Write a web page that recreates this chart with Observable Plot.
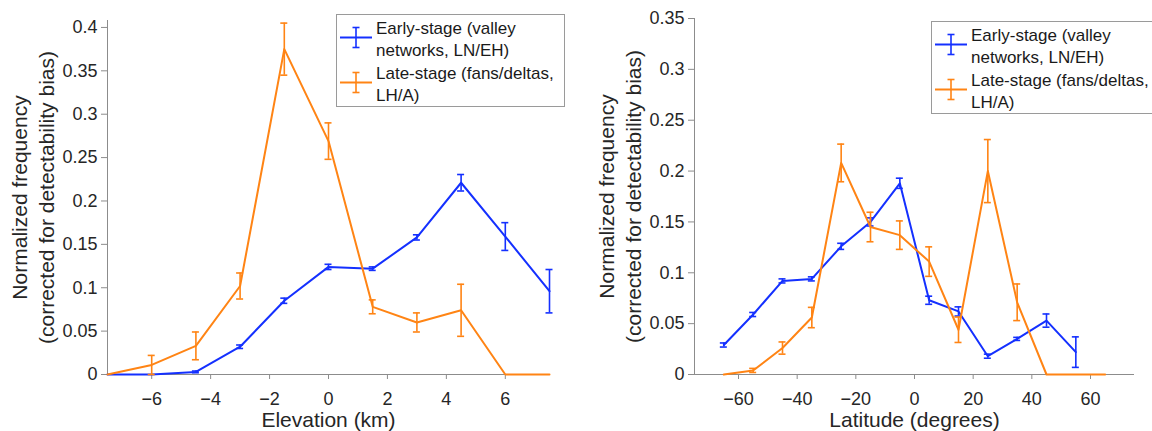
<!DOCTYPE html>
<html><head><meta charset="utf-8">
<script src="https://cdn.jsdelivr.net/npm/d3@7"></script>
<script src="https://cdn.jsdelivr.net/npm/@observablehq/plot@0.6"></script>
<style>
body{margin:0;background:#fff;}
#wrap{position:relative;width:1152px;height:431px;overflow:hidden;display:flex;background:#fff;}
#wrap svg{display:block;}
#overlay{position:absolute;left:0;top:0;pointer-events:none;}
</style></head><body><div id="wrap"></div>
<script>
// ---- Left panel: elevation ----
const elevX = [-7.5, -6, -4.5, -3, -1.5, 0, 1.5, 3, 4.5, 6, 7.5];
const elevEarly = [0, 0, 0.003, 0.032, 0.085, 0.124, 0.122, 0.158, 0.221, 0.159, 0.096];
const elevEarlyErr = [0, 0, 0.001, 0.002, 0.003, 0.003, 0.002, 0.003, 0.0095, 0.016, 0.025];
const elevLate = [0, 0.011, 0.033, 0.102, 0.375, 0.269, 0.078, 0.060, 0.074, 0, 0];
const elevLateErr = [0, 0.011, 0.016, 0.015, 0.030, 0.021, 0.008, 0.011, 0.030, 0, 0];
const elevXTicks = [-6, -4, -2, 0, 2, 4, 6];
const elevYTicks = [0, 0.05, 0.1, 0.15, 0.2, 0.25, 0.3, 0.35, 0.4];

// ---- Right panel: latitude ----
const latX = [-65, -55, -45, -35, -25, -15, -5, 5, 15, 25, 35, 45, 55, 65];
const latEarly = [0.029, 0.059, 0.092, 0.094, 0.126, 0.150, 0.188, 0.073, 0.062, 0.018, 0.035, 0.053, 0.022];
const latEarlyErr = [0.002, 0.002, 0.002, 0.002, 0.003, 0.004, 0.005, 0.004, 0.0045, 0.002, 0.0015, 0.0065, 0.015];
const latLate = [0, 0.004, 0.026, 0.056, 0.208, 0.145, 0.137, 0.111, 0.044, 0.200, 0.071, 0, 0, 0];
const latLateErr = [0, 0.002, 0.006, 0.010, 0.0185, 0.0145, 0.014, 0.0145, 0.0125, 0.031, 0.018, 0, 0, 0];
const latXTicks = [-60, -40, -20, 0, 20, 40, 60];
const latYTicks = [0, 0.05, 0.1, 0.15, 0.2, 0.25, 0.3, 0.35];

const yLabel = "Normalized frequency\n(corrected for detectability bias)";
const seriesNames = ["Early-stage (valley\nnetworks, LN/EH)", "Late-stage (fans/deltas,\nLH/A)"];
const colors = ["#1430ff", "#ff8414"];

const FONT = '"Liberation Sans", Arial, Helvetica, sans-serif';
const AXIS = "#8c8c8c";
const INK = "#262626";

const fmtY = d => d === 0 ? "0" : String(+d.toFixed(2));
const fmtX = d => d < 0 ? "\u2212" + (-d) : String(d);

function seriesMarks(data, color) {
  const bars = data.filter(p => p.e > 0);
  return [
    Plot.ruleX(bars, {x: "x", y1: d => d.y - d.e, y2: d => d.y + d.e, stroke: color, strokeWidth: 1.6}),
    Plot.ruleY(bars, {y: d => d.y + d.e, x1: "x", x2: "x", insetLeft: -3.5, insetRight: -3.5, stroke: color, strokeWidth: 1.6}),
    Plot.ruleY(bars, {y: d => d.y - d.e, x1: "x", x2: "x", insetLeft: -3.5, insetRight: -3.5, stroke: color, strokeWidth: 1.6}),
    Plot.line(data, {x: "x", y: "y", stroke: color, strokeWidth: 2})
  ];
}

function chart(o) {
  const E = o.early.map((v, i) => ({x: o.xs[i], y: v, e: o.earlyErr[i]}));
  const L = o.late.map((v, i) => ({x: o.xs[i], y: v, e: o.lateErr[i]}));
  return Plot.plot({
    width: 576, height: 431,
    marginLeft: o.mL, marginRight: o.mR, marginTop: o.mT, marginBottom: o.mB,
    style: {fontFamily: FONT, fontSize: "18px", background: "white", color: INK, overflow: "visible"},
    x: {domain: o.xDomain},
    y: {domain: o.yDomain},
    marks: [
      Plot.axisX({ticks: o.xTicks, tickFormat: fmtX, tickSize: 5, tickPadding: 13, stroke: AXIS, color: INK, fontSize: 18, label: null}),
      Plot.axisY({ticks: o.yTicks, tickFormat: fmtY, tickSize: 6, tickPadding: 4, stroke: AXIS, color: INK, fontSize: 18, label: null}),
      Plot.ruleY([o.yDomain[0]], {stroke: AXIS}),
      Plot.ruleX([o.xDomain[0]], {stroke: AXIS}),
      ...seriesMarks(E, colors[0]),
      ...seriesMarks(L, colors[1]),
      Plot.text([o.xLabel], {text: d => d, frameAnchor: "bottom", textAnchor: "middle", dy: 52, lineAnchor: "bottom", fontSize: 21, fill: INK}),
      Plot.text([yLabel], {text: d => d, frameAnchor: "left", textAnchor: "middle", dx: -54, rotate: -90, lineAnchor: "bottom", lineHeight: 1.24, fontSize: 21, fill: INK})
    ]
  });
}

const wrap = document.getElementById("wrap");
wrap.appendChild(chart({
  xs: elevX, early: elevEarly, earlyErr: elevEarlyErr, late: elevLate, lateErr: elevLateErr,
  xDomain: [-7.5, 7.5], yDomain: [0, 0.408], xTicks: elevXTicks, yTicks: elevYTicks,
  xLabel: "Elevation (km)", mL: 107, mR: 27, mT: 20, mB: 57
}));
wrap.appendChild(chart({
  xs: latX, early: latEarly, earlyErr: latEarlyErr, late: latLate, lateErr: latLateErr,
  xDomain: [-75, 75], yDomain: [0, 0.35], xTicks: latXTicks, yTicks: latYTicks,
  xLabel: "Latitude (degrees)", mL: 118, mR: 18, mT: 18, mB: 57
}));

// ---- Legends (overlay) ----
const ov = d3.create("svg").attr("id", "overlay").attr("width", 1152).attr("height", 431)
  .style("font-family", FONT).style("font-size", "17px");
function legend(bx, by, bw) {
  const g = ov.append("g").attr("transform", `translate(${bx},${by})`);
  g.append("rect").attr("x", 0.5).attr("y", 0.5).attr("width", bw).attr("height", 92)
    .attr("fill", "white").attr("stroke", "#9a9a9a").attr("stroke-width", 1);
  const symY = [23.5, 68.5];
  seriesNames.forEach((name, k) => {
    const c = colors[k], y = symY[k];
    g.append("line").attr("x1", 4).attr("x2", 36).attr("y1", y).attr("y2", y).attr("stroke", c).attr("stroke-width", 2);
    g.append("line").attr("x1", 20).attr("x2", 20).attr("y1", y - 10).attr("y2", y + 10).attr("stroke", c).attr("stroke-width", 1.6);
    [y - 10, y + 10].forEach(yy => g.append("line").attr("x1", 16.5).attr("x2", 23.5).attr("y1", yy).attr("y2", yy).attr("stroke", c).attr("stroke-width", 1.6));
    name.split("\n").forEach((line, j) => {
      g.append("text").attr("x", 40).attr("y", 20 + (k * 2 + j) * 22.4).attr("fill", "#1a1a1a").text(line);
    });
  });
}
legend(336, 14, 228);
legend(931, 21, 300);
wrap.appendChild(ov.node());
</script>
</body></html>
